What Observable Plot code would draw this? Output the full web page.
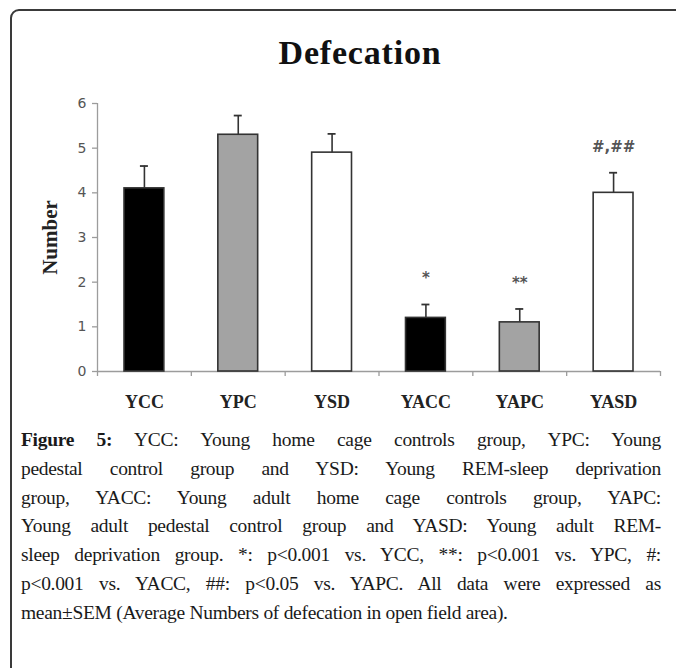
<!DOCTYPE html>
<html>
<head>
<meta charset="utf-8">
<script src="https://cdn.jsdelivr.net/npm/d3@7"></script>
<script src="https://cdn.jsdelivr.net/npm/@observablehq/plot@0.6"></script>
<style>
  body { margin: 0; background: #fff; width: 676px; height: 668px; overflow: hidden; position: relative; }
  #frame { position: absolute; left: 10px; top: 9px; width: 720px; height: 720px; border: 2px solid #3a3a3a; border-radius: 9px; box-sizing: border-box; }
  #title { position: absolute; left: 0; width: 720px; top: 33px; text-align: center; font-family: "Liberation Serif", serif; font-weight: bold; font-size: 34px; letter-spacing: 0.8px; color: #111; line-height: 40px; }
  #chart { position: absolute; left: 0; top: 0; }
  #caption { position: absolute; left: 21px; width: 640px; top: 426px; font-family: "Liberation Serif", serif; font-size: 19.5px; letter-spacing: -0.3px; line-height: 28.8px; color: #1a1a1a; }
  #caption div { white-space: nowrap; text-align: justify; text-align-last: justify; }
  #caption div.last { text-align-last: left; }
</style>
</head>
<body>
<div id="frame"></div>
<div id="title">Defecation</div>
<div id="chart"></div>
<div id="caption"></div>
<script>
const groups = ["YCC", "YPC", "YSD", "YACC", "YAPC", "YASD"];
const conditions = ["home cage", "pedestal", "REM-sleep deprivation", "home cage", "pedestal", "REM-sleep deprivation"];
const means = [4.1, 5.3, 4.9, 1.2, 1.1, 4.0];
const sems = [0.5, 0.43, 0.42, 0.3, 0.3, 0.45];
const marks = ["", "", "", "*", "**", "#,##"];
const yTicks = [0, 1, 2, 3, 4, 5, 6];
const yLabel = "Number";
const captionLines = [
  "<b>Figure 5:</b> YCC: Young home cage controls group, YPC: Young",
  "pedestal control group and YSD: Young REM-sleep deprivation",
  "group, YACC: Young adult home cage controls group, YAPC:",
  "Young adult pedestal control group and YASD: Young adult REM-",
  "sleep deprivation group. *: p&lt;0.001 vs. YCC, **: p&lt;0.001 vs. YPC, #:",
  "p&lt;0.001 vs. YACC, ##: p&lt;0.05 vs. YAPC. All data were expressed as",
  "mean±SEM (Average Numbers of defecation in open field area)."
];

const data = groups.map((g, i) => ({i, group: g, cond: conditions[i], mean: means[i], sem: sems[i], top: means[i] + sems[i], mark: marks[i]}));

const axisColor = "#9c9c9c";
const chart = Plot.plot({
  width: 676,
  height: 420,
  marginLeft: 97,
  marginRight: 16,
  marginTop: 103,
  marginBottom: 49,
  x: {domain: [0, groups.length], axis: null},
  y: {domain: [0, 6], axis: null},
  color: {domain: ["home cage", "pedestal", "REM-sleep deprivation"], range: ["#000000", "#a3a3a3", "#ffffff"]},
  style: {background: "transparent"},
  marks: [
    Plot.ruleX([0], {y1: 0, y2: 6, stroke: axisColor, strokeWidth: 1.3}),
    Plot.axisY({ticks: yTicks, tickFormat: "d", tickSize: 5, tickPadding: 6, stroke: axisColor, strokeWidth: 1.3, fill: "#555", fontSize: 14, fontFamily: "DejaVu Sans", label: null}),
    Plot.ruleY([0], {stroke: axisColor, strokeWidth: 1.3}),
    Plot.axisX({ticks: d3.range(groups.length + 1), tickSize: 5, tickFormat: () => "", stroke: axisColor, strokeWidth: 1.3, label: null}),
    Plot.rectY(data, {x1: d => d.i, x2: d => d.i + 1, y1: 0, y2: "mean", fill: "cond", stroke: "#333", strokeWidth: 1.6, insetLeft: 27, insetRight: 27}),
    Plot.ruleX(data, {x: d => d.i + 0.5, y1: "mean", y2: "top", stroke: "#333", strokeWidth: 1.6}),
    Plot.ruleY(data, {y: "top", x1: d => d.i + 0.5, x2: d => d.i + 0.5, insetLeft: -4, insetRight: -4, stroke: "#333", strokeWidth: 1.8}),
    Plot.text(data.filter(d => d.mark), {x: d => d.i + 0.5, y: "top", text: "mark", dy: -26, fill: "#555", fontWeight: "bold", fontSize: 15, fontFamily: "DejaVu Sans"}),
    Plot.text(data, {x: d => d.i + 0.5, y: 0, text: "group", dy: 31, fill: "#222", fontWeight: "bold", fontSize: 18, fontFamily: "Liberation Serif"}),
    Plot.text([yLabel], {frameAnchor: "left", textAnchor: "middle", dx: -47, rotate: -90, fill: "#222", fontWeight: "bold", fontSize: 21, fontFamily: "Liberation Serif"})
  ]
});
document.getElementById("chart").appendChild(chart);

const cap = document.getElementById("caption");
captionLines.forEach((t, k) => {
  const div = document.createElement("div");
  div.innerHTML = t;
  if (k === captionLines.length - 1) div.className = "last";
  cap.appendChild(div);
});
</script>
</body>
</html>
